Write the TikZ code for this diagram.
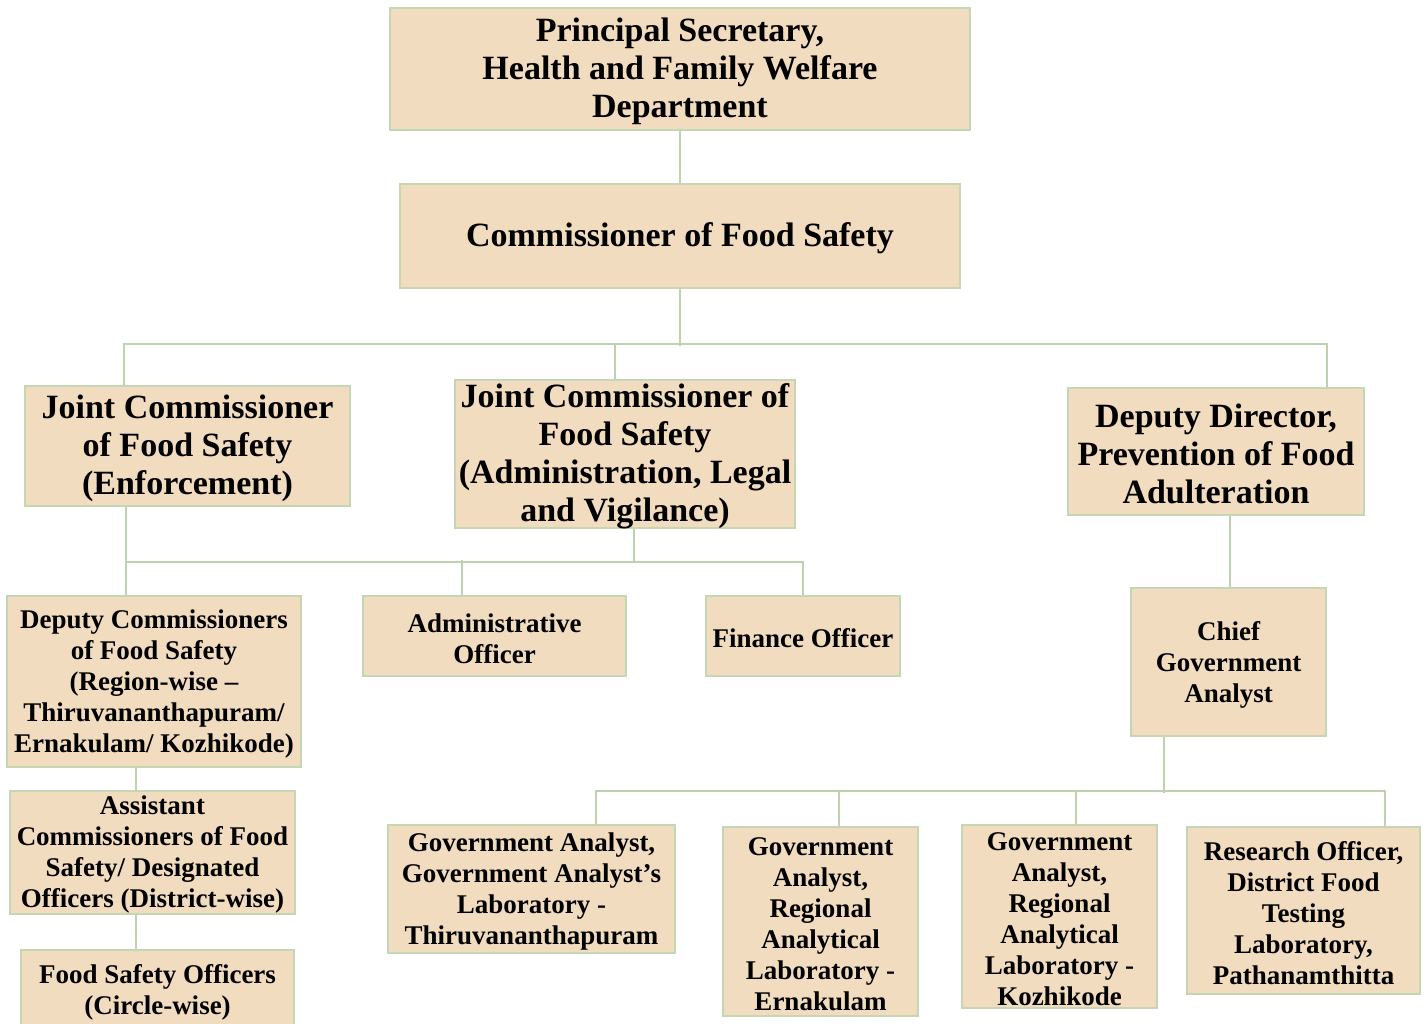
\documentclass[tikz,border=0pt]{standalone}
\usepackage{fontspec}
\setmainfont{Liberation Serif}
\usetikzlibrary{calc}
\definecolor{boxfill}{RGB}{242,220,192}
\definecolor{boxline}{RGB}{196,214,180}
\definecolor{connline}{RGB}{190,210,176}
\tikzset{
  orgbox/.style={draw=boxline, fill=boxfill, line width=1.8pt, inner sep=0pt},
  bigtxt/.style={font=\bfseries\fontsize{34}{38}\selectfont},
  smalltxt/.style={font=\bfseries\fontsize{27}{31}\selectfont},
  conn/.style={draw=connline, line width=1.5pt}
}
% #1 name, #2 x, #3 y, #4 width, #5 height, #6 text style, #7 text
\newcommand\boxnode[7]{%
  \node[orgbox, minimum width=#4, minimum height=#5] (#1) at (#2,#3) {};
  \node[#6, align=center, inner sep=0pt, yshift=-2.5pt] (#1t) at (#1.center) {#7};
}
\begin{document}
\begin{tikzpicture}[x=1pt, y=-1pt]
\useasboundingbox (0,0) rectangle (1427,1024);
% level 1-2
\boxnode{ps}{680}{69}{580}{122}{bigtxt}{Principal Secretary,\\Health and Family Welfare\\Department}
\boxnode{cfs}{680}{236}{560}{104}{bigtxt}{Commissioner of Food Safety}
% level 3
\boxnode{jce}{187.5}{446}{325}{120}{bigtxt}{Joint Commissioner\\of Food Safety\\(Enforcement)}
\boxnode{jca}{625}{454}{340}{148}{bigtxt}{Joint Commissioner of\\Food Safety\\(Administration, Legal\\and Vigilance)}
\boxnode{dd}{1216}{451.5}{296}{127}{bigtxt}{Deputy Director,\\Prevention of Food\\Adulteration}
% level 4
\boxnode{dc}{154}{681.5}{294}{171}{smalltxt}{Deputy Commissioners\\of Food Safety\\(Region-wise –\\Thiruvananthapuram/\\Ernakulam/ Kozhikode)}
\boxnode{ao}{494.5}{636}{263}{80}{smalltxt}{Administrative\\Officer}
\boxnode{fo}{803}{636}{194}{80}{smalltxt}{Finance Officer}
\boxnode{cga}{1228.5}{662}{195}{148}{smalltxt}{Chief\\Government\\Analyst}
% level 5-6 left
\boxnode{ac}{152.5}{852.5}{285}{123}{smalltxt}{Assistant\\Commissioners of Food\\Safety/ Designated\\Officers (District-wise)}
\boxnode{fso}{157.5}{989.5}{273}{79}{smalltxt}{Food Safety Officers\\(Circle-wise)}
% labs
\boxnode{ga1}{531.5}{889}{287}{128}{smalltxt}{Government Analyst,\\Government Analyst’s\\Laboratory -\\Thiruvananthapuram}
\boxnode{ga2}{820.5}{921.5}{195}{189}{smalltxt}{Government\\Analyst,\\Regional\\Analytical\\Laboratory -\\Ernakulam}
\boxnode{ga3}{1059.5}{916.5}{195}{183}{smalltxt}{Government\\Analyst,\\Regional\\Analytical\\Laboratory -\\Kozhikode}
\boxnode{ro}{1303.5}{910.5}{233}{167}{smalltxt}{Research Officer,\\District Food\\Testing\\Laboratory,\\Pathanamthitta}
% connectors
\draw[conn] (ps) -- (cfs);
\draw[conn] (cfs.south) -- ++(0,57) coordinate (bus1);
\draw[conn] ($(jce.north west)+(100,0)$) |- ($(dd.north east)+(-38,-43)$) -- ($(dd.north east)+(-38,0)$);
\draw[conn] ($(jca.north)+(-10,0)$) -- ++(0,-35);
\draw[conn] ($(jce.south west)+(102,0)$) -- ($(dc.north west)+(120,0)$);
\draw[conn] ($(jce.south west)+(102,55)$) -| (fo.north);
\draw[conn] ($(jca.south)+(9,0)$) -- ++(0,33);
\draw[conn] ($(ao.north)+(-32.5,0)$) -- ++(0,-35);
\draw[conn] ($(dc.south)+(-18,0)$) -- ($(ac.north)+(-16.5,0)$);
\draw[conn] ($(ac.south)+(-16.5,0)$) -- ($(fso.north)+(-21.5,0)$);
\draw[conn] ($(dd.south)+(14,0)$) -- ($(cga.north)+(1.5,0)$);
\draw[conn] ($(cga.south)+(-64.5,0)$) -- ++(0,56);
\draw[conn] ($(ga1.north)+(64.5,0)$) |- ($(ro.north)+(81.5,-35)$) -- ($(ro.north)+(81.5,0)$);
\draw[conn] ($(ga2.north)+(18.5,0)$) -- ++(0,-35);
\draw[conn] ($(ga3.north)+(16.5,0)$) -- ++(0,-33);
\end{tikzpicture}
\end{document}
